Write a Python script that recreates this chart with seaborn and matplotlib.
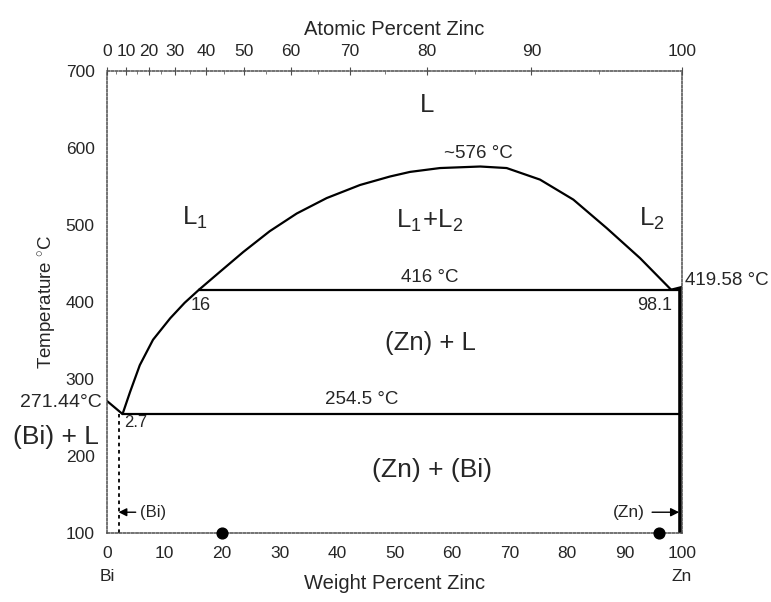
import numpy as np
import matplotlib
matplotlib.use("Agg")
import matplotlib.pyplot as plt
from matplotlib.ticker import MultipleLocator
import seaborn as sns

# Bi-Zn phase diagram
# eutectic branch on the Bi side
bi_liq_wt = [0, 2.7]
bi_liq_T = [271.44, 254.5]

# liquidus rising from the eutectic to the monotectic point
liq_wt = [2.7, 4.0, 5.7, 8.0, 11.0, 13.5, 16.0]
liq_T = [254.5, 283, 318, 351, 379, 399, 416]

# miscibility gap L1 + L2
gap_wt = [16.0, 19.6, 23.7, 28.3, 33.0, 38.2, 44.0, 49.2, 52.7, 57.9, 64.9,
          69.5, 75.3, 81.1, 86.9, 92.7, 98.1]
gap_T = [416, 439, 465, 492, 515, 535, 552, 563, 569, 574, 576,
         574, 559, 533, 496, 457, 416]

# Zn side liquidus piece
zn_liq_wt = [98.1, 100]
zn_liq_T = [416, 419.58]

monotectic_T = 416
monotectic_wt = [16.0, 99.7]
eutectic_T = 254.5
eutectic_wt = [2.7, 99.7]

zn_solvus_wt = [99.7, 99.7]
zn_solvus_T = [100, 419.58]
bi_solvus_wt = [2.0, 2.0]
bi_solvus_T = [100, 254.5]

dots_wt = [20, 96]
dots_T = [100, 100]

M_ZN, M_BI = 65.38, 208.98


def wt_to_at(w):
    w = np.clip(np.asarray(w, dtype=float), 1e-9, 100 - 1e-9)
    nz = w / M_ZN
    nb = (100 - w) / M_BI
    return 100 * nz / (nz + nb)


def at_to_wt(a):
    a = np.clip(np.asarray(a, dtype=float), 1e-9, 100 - 1e-9)
    mz = a * M_ZN
    mb = (100 - a) * M_BI
    return 100 * mz / (mz + mb)


sns.set_style("white")
plt.rcParams["font.family"] = ["Liberation Sans", "DejaVu Sans"]
plt.rcParams["mathtext.fontset"] = "custom"
plt.rcParams["mathtext.rm"] = "Liberation Sans"
plt.rcParams["mathtext.it"] = "Liberation Sans"

fig = plt.figure(figsize=(7.71, 6.02), dpi=100)
ax = fig.add_axes([0.1388, 0.1146, 0.7458, 0.7674])

lw = 1.6
for xs, ys in [(bi_liq_wt, bi_liq_T), (liq_wt, liq_T), (gap_wt, gap_T), (zn_liq_wt, zn_liq_T)]:
    sns.lineplot(x=xs, y=ys, ax=ax, color="black", lw=lw, sort=False, estimator=None,
                 solid_joinstyle="round")

ax.plot(monotectic_wt, [monotectic_T] * 2, color="black", lw=lw)
ax.plot(eutectic_wt, [eutectic_T] * 2, color="black", lw=lw)
ax.plot(zn_solvus_wt, zn_solvus_T, color="black", lw=2.6, solid_capstyle="butt")
ax.plot(bi_solvus_wt, bi_solvus_T, color="black", lw=1.3, ls=(0, (2, 2)))
ax.scatter(dots_wt, dots_T, s=60, color="black", zorder=5, clip_on=False)

ax.set_xlim(0, 100)
ax.set_ylim(100, 700)
ax.xaxis.set_major_locator(MultipleLocator(10))
ax.xaxis.set_minor_locator(MultipleLocator(2))
ax.yaxis.set_major_locator(MultipleLocator(100))
ax.yaxis.set_minor_locator(MultipleLocator(20))
ax.tick_params(axis="both", which="major", direction="inout", length=6, width=0.8,
               labelsize=12.5, pad=6, color="0.3")
ax.tick_params(axis="both", which="minor", direction="in", length=2.5, width=0.6, color="0.4")
for sp in ax.spines.values():
    sp.set_linestyle((0, (1.5, 1.2)))
    sp.set_linewidth(1.1)
    sp.set_color("0.3")

sec = ax.secondary_xaxis("top", functions=(wt_to_at, at_to_wt))
sec.set_xticks(np.arange(0, 101, 10))
sec.set_xticklabels([str(v) for v in range(0, 101, 10)])
sec.xaxis.set_minor_locator(MultipleLocator(5))
sec.tick_params(axis="x", which="major", direction="inout", length=6, width=0.8,
                labelsize=12.5, pad=6, color="0.3")
sec.tick_params(axis="x", which="minor", direction="in", length=2.5, width=0.6, color="0.4")
sec.spines["top"].set_visible(False)
sec.set_xlabel("Atomic Percent Zinc", fontsize=14.5, labelpad=6)

ax.set_xlabel("Weight Percent Zinc", fontsize=14.5, labelpad=10)
ax.set_ylabel("Temperature $^{\\circ}$C", fontsize=13.5, labelpad=5)

big = 18.5
ax.text(55.7, 656, "L", fontsize=big, ha="center", va="center")
ax.text(64.5, 593, "~576 °C", fontsize=13.5, ha="center", va="center")
ax.text(15.3, 509, r"$\mathregular{L_1}$", fontsize=big, ha="center", va="center")
ax.text(56.2, 506, r"$\mathregular{L_1\!+\!L_2}$", fontsize=big, ha="center", va="center")
ax.text(94.8, 508, r"$\mathregular{L_2}$", fontsize=big, ha="center", va="center")
ax.text(56.2, 432, "416 °C", fontsize=13.5, ha="center", va="center")
ax.text(16.3, 395, "16", fontsize=13, ha="center", va="center")
ax.text(95.3, 395, "98.1", fontsize=13, ha="center", va="center")
ax.text(100.6, 428, "419.58 °C", fontsize=13.5, ha="left", va="center", clip_on=False)
ax.text(56.2, 347, "(Zn) + L", fontsize=big, ha="center", va="center")
ax.text(-1.0, 269, "271.44°C", fontsize=14, ha="right", va="center", clip_on=False)
ax.text(44.3, 273, "254.5 °C", fontsize=13.5, ha="center", va="center")
ax.text(-1.4, 225, "(Bi) + L", fontsize=19, ha="right", va="center", clip_on=False)
ax.text(2.9, 243, "2.7", fontsize=12, ha="left", va="center")
ax.text(56.5, 182, "(Zn) + (Bi)", fontsize=19, ha="center", va="center")

ax.annotate("(Bi)", xy=(2.0, 127), xytext=(5.8, 127), fontsize=12, ha="left", va="center",
            arrowprops=dict(arrowstyle="-|>", color="black", lw=1, shrinkA=1, shrinkB=0))
ax.annotate("(Zn)", xy=(99.5, 127), xytext=(93.5, 127), fontsize=12.5, ha="right", va="center",
            arrowprops=dict(arrowstyle="-|>", color="black", lw=1, shrinkA=3, shrinkB=0))

ax.text(0, -0.095, "Bi", transform=ax.get_xaxis_transform(), fontsize=12.5, ha="center", va="center")
ax.text(100, -0.095, "Zn", transform=ax.get_xaxis_transform(), fontsize=12.5, ha="center", va="center")

fig.savefig("out.png", dpi=100, facecolor="white")
